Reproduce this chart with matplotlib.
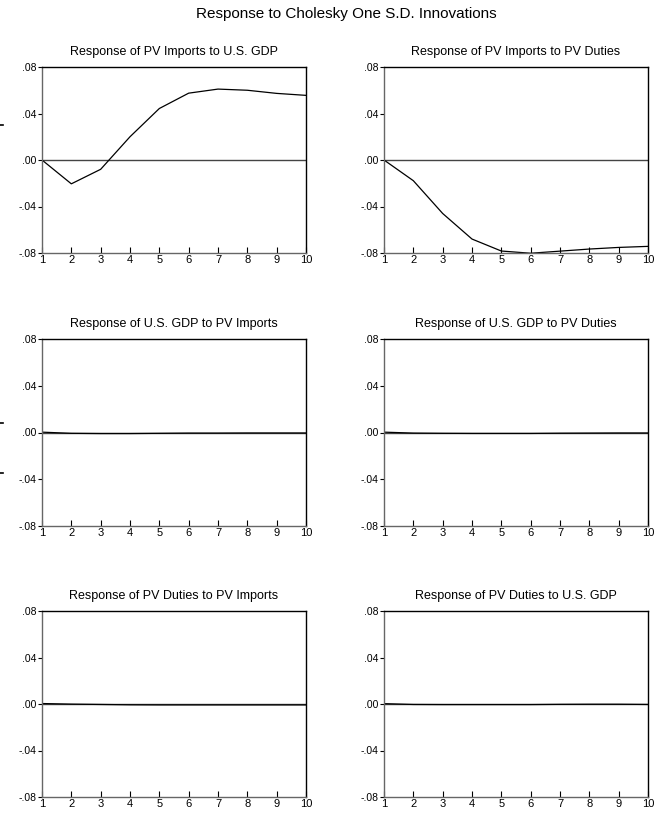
import numpy as np
import matplotlib
matplotlib.use("Agg")
import matplotlib.pyplot as plt
from matplotlib.lines import Line2D

plt.rcParams['font.family'] = ['Liberation Sans', 'DejaVu Sans']

# periods and impulse responses
periods = [1, 2, 3, 4, 5, 6, 7, 8, 9, 10]
imports_to_gdp = [0.000, -0.0205, -0.008, 0.020, 0.0443, 0.0575, 0.061, 0.060, 0.0573, 0.0556]
imports_to_duties = [0.000, -0.0178, -0.046, -0.068, -0.0783, -0.0802, -0.0784, -0.0766, -0.0752, -0.0743]
gdp_to_imports = [0.0003, -0.0007, -0.0009, -0.0009, -0.0007, -0.0005, -0.0005, -0.0004, -0.0004, -0.0004]
gdp_to_duties = [0.0003, -0.0005, -0.0007, -0.0008, -0.0008, -0.0008, -0.0006, -0.0005, -0.0004, -0.0004]
duties_to_imports = [0.0004, -0.0001, -0.0004, -0.0007, -0.0008, -0.0008, -0.0008, -0.0008, -0.0008, -0.0008]
duties_to_gdp = [0.0003, -0.0004, -0.0005, -0.0005, -0.0005, -0.0005, -0.0003, -0.0002, -0.0002, -0.0004]

titles = ["Response of PV Imports to U.S. GDP", "Response of PV Imports to PV Duties",
          "Response of U.S. GDP to PV Imports", "Response of U.S. GDP to PV Duties",
          "Response of PV Duties to PV Imports", "Response of PV Duties to U.S. GDP"]
series = [imports_to_gdp, imports_to_duties, gdp_to_imports, gdp_to_duties,
          duties_to_imports, duties_to_gdp]
yticks = [-0.08, -0.04, 0.00, 0.04, 0.08]
ytick_labels = ["-.08", "-.04", ".00", ".04", ".08"]

W, H = 658, 814
fig = plt.figure(figsize=(W / 100, H / 100), dpi=100)

# axes boxes in pixels: left, top, right, bottom
col_x = [(42, 306), (384, 648)]
row_y = [(67, 253), (339, 526), (611, 797)]

for i in range(6):
    r, c = divmod(i, 2)
    x0, x1 = col_x[c]
    y0, y1 = row_y[r]
    ax = fig.add_axes([x0 / W, 1 - y1 / H, (x1 - x0) / W, (y1 - y0) / H])
    ax.axhline(0, color='#444444', lw=1.0, zorder=1)
    ax.plot(periods, series[i], color='black', lw=0.9, zorder=2)
    ax.set_xlim(1, 10)
    ax.set_ylim(-0.08, 0.08)
    ax.set_xticks(periods)
    ax.set_yticks(yticks)
    ax.set_yticklabels(ytick_labels)
    ax.tick_params(axis='x', direction='in', length=4, width=0.8, labelsize=8, pad=1.5)
    ax.tick_params(axis='y', direction='out', length=3, width=0.8, labelsize=7.5, pad=1)
    for s in ['left', 'bottom']:
        ax.spines[s].set_color('#666666')
        ax.spines[s].set_linewidth(1.0)
    for s in ['top', 'right']:
        ax.spines[s].set_color('black')
        ax.spines[s].set_linewidth(1.0)
    ax.set_title(titles[i], fontsize=9, pad=9)

fig.text(346 / W, 1 - 14 / H, "Response to Cholesky One S.D. Innovations",
         ha='center', va='center', fontsize=11)

# small stray marks at the left edge of the original image
for yy in [125, 423, 473]:
    fig.add_artist(Line2D([0, 3 / W], [1 - yy / H, 1 - yy / H], color='black', lw=1.2))

fig.savefig("out.png", dpi=100)
